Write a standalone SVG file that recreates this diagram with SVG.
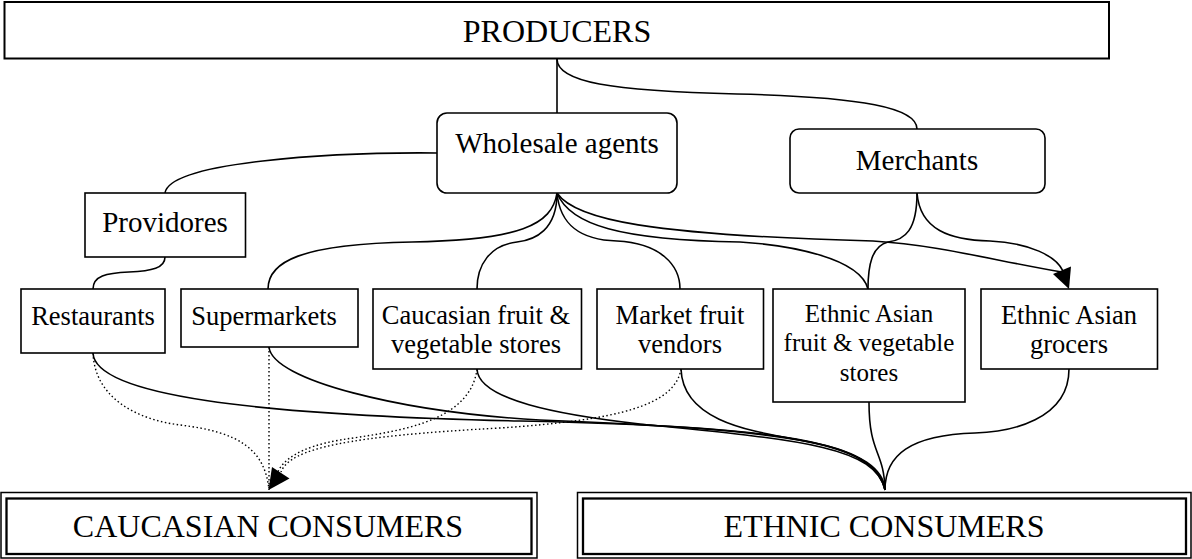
<svg xmlns="http://www.w3.org/2000/svg" width="1192" height="559" viewBox="0 0 1192 559">
<style>
  .box{fill:#fff;stroke:#000;stroke-width:1.6}
  .big{fill:#fff;stroke:#000;stroke-width:2}
  .outer{fill:#fff;stroke:#000;stroke-width:1.5}
  .inner{fill:none;stroke:#000;stroke-width:2.3}
  text{font-family:"Liberation Serif","Times New Roman",serif;fill:#000;text-anchor:middle}
  .t32{font-size:32px}
  .t29{font-size:29px}
  .t26{font-size:26.5px}
  .t25{font-size:25px}
  .ln{fill:none;stroke:#000;stroke-width:1.6}
  .dot{fill:none;stroke:#000;stroke-width:1.4;stroke-dasharray:1.5 2.5}
  .ah{fill:#000;stroke:none}
</style>
<rect width="1192" height="559" fill="#fff"/>
<g id="connectors">
  <path class="ln" d="M557,59 L557,113"/>
  <path class="ln" d="M557,59 C557,82 610,91 737,94 C864,97 917,108 917,129"/>
  <path class="ln" d="M437,153 C330,152 170,162 165,193"/>
  <path class="ln" d="M165,257 C165,268 152,271 129,272 C106,273 93,276 93,289"/>
  <path class="ln" d="M557,193 C552,225 520,240 412,242 C300,244 268,262 268,289"/>
  <path class="ln" d="M557,193 C557,230 535,240 517,242 C490,245 477,265 477,289"/>
  <path class="ln" d="M557,193 C560,225 580,240 617,241 C660,243 680,265 680,289"/>
  <path class="ln" d="M557,193 C570,225 620,240 740,242 C790,245 860,258 868,289"/>
  <path class="ln" d="M557,193 C575,220 650,235 873,241 C940,245 1000,262 1062,272"/>
  <path class="ln" d="M917,193 C917,230 905,240 888,242 C872,246 868,265 868,289"/>
  <path class="ln" d="M917,193 C920,230 950,240 990,241 C1030,243 1056,256 1063,271"/>
  <polygon class="ah" points="1053,274 1071,266.5 1069,289"/>
  <path class="ln" d="M93,353 C95,395 250,415 520,421 C780,427 875,440 885,490"/>
  <path class="ln" d="M269,347 C272,380 400,412 540,420 C790,430 875,442 885,490"/>
  <path class="ln" d="M477,369 C478,400 560,415 640,424 C800,440 875,446 885,490"/>
  <path class="ln" d="M681,369 C683,425 760,432 810,442 C862,452 884,470 885,490"/>
  <path class="ln" d="M869,402 C869,455 884,450 885,490"/>
  <path class="ln" d="M1069,369 C1069,420 1010,432 975,433 C910,435 885,455 885,490"/>
  <path class="dot" d="M93,353 C95,400 140,420 180,425 C240,432 265,450 269,490"/>
  <path class="dot" d="M269,347 L269,490"/>
  <path class="dot" d="M477,369 C470,425 390,432 340,440 C300,447 282,460 277,474"/>
  <path class="dot" d="M681,369 C675,405 620,420 500,428 C350,436 290,448 281,472"/>
  <polygon class="ah" points="272,467 289.5,478.5 268.5,490"/>
</g>
<g id="producers">
  <rect class="big" x="4.5" y="2" width="1104.5" height="56.5"/>
  <text class="t32" x="557" y="42">PRODUCERS</text>
</g>
<g id="wholesale">
  <rect class="box" x="437" y="113" width="240" height="80" rx="10"/>
  <text class="t29" x="557" y="153">Wholesale agents</text>
</g>
<g id="merchants">
  <rect class="box" x="790" y="129" width="255" height="64" rx="9"/>
  <text class="t29" x="917" y="170">Merchants</text>
</g>
<g id="providores">
  <rect class="box" x="85" y="193" width="160.5" height="64"/>
  <text class="t29" x="165" y="232">Providores</text>
</g>
<g id="restaurants">
  <rect class="box" x="21" y="289" width="144" height="64"/>
  <text class="t26" x="93" y="325">Restaurants</text>
</g>
<g id="supermarkets">
  <rect class="box" x="181" y="289" width="177" height="58"/>
  <text class="t26" x="264" y="325">Supermarkets</text>
</g>
<g id="caucasian-stores">
  <rect class="box" x="373" y="289" width="208.5" height="80"/>
  <text class="t26" x="476" y="324">Caucasian fruit &amp;</text>
  <text class="t26" x="476" y="353">vegetable stores</text>
</g>
<g id="market-vendors">
  <rect class="box" x="597" y="289" width="166.5" height="80"/>
  <text class="t26" x="680" y="324">Market fruit</text>
  <text class="t26" x="680" y="353">vendors</text>
</g>
<g id="ethnic-stores">
  <rect class="box" x="773" y="289" width="192" height="113"/>
  <text class="t25" x="869" y="322">Ethnic Asian</text>
  <text class="t25" x="869" y="351">fruit &amp; vegetable</text>
  <text class="t25" x="869" y="381">stores</text>
</g>
<g id="ethnic-grocers">
  <rect class="box" x="981" y="289" width="176.5" height="80"/>
  <text class="t26" x="1069" y="324">Ethnic Asian</text>
  <text class="t26" x="1069" y="353">grocers</text>
</g>
<g id="caucasian-consumers">
  <rect class="outer" x="1" y="492.5" width="536" height="65.5"/>
  <rect class="inner" x="6.5" y="498.5" width="525" height="55.5"/>
  <text class="t32" x="268" y="537">CAUCASIAN CONSUMERS</text>
</g>
<g id="ethnic-consumers">
  <rect class="outer" x="577.5" y="492.5" width="613.5" height="65.5"/>
  <rect class="inner" x="583" y="498.5" width="603" height="55.5"/>
  <text class="t32" x="884" y="537">ETHNIC CONSUMERS</text>
</g>
</svg>
